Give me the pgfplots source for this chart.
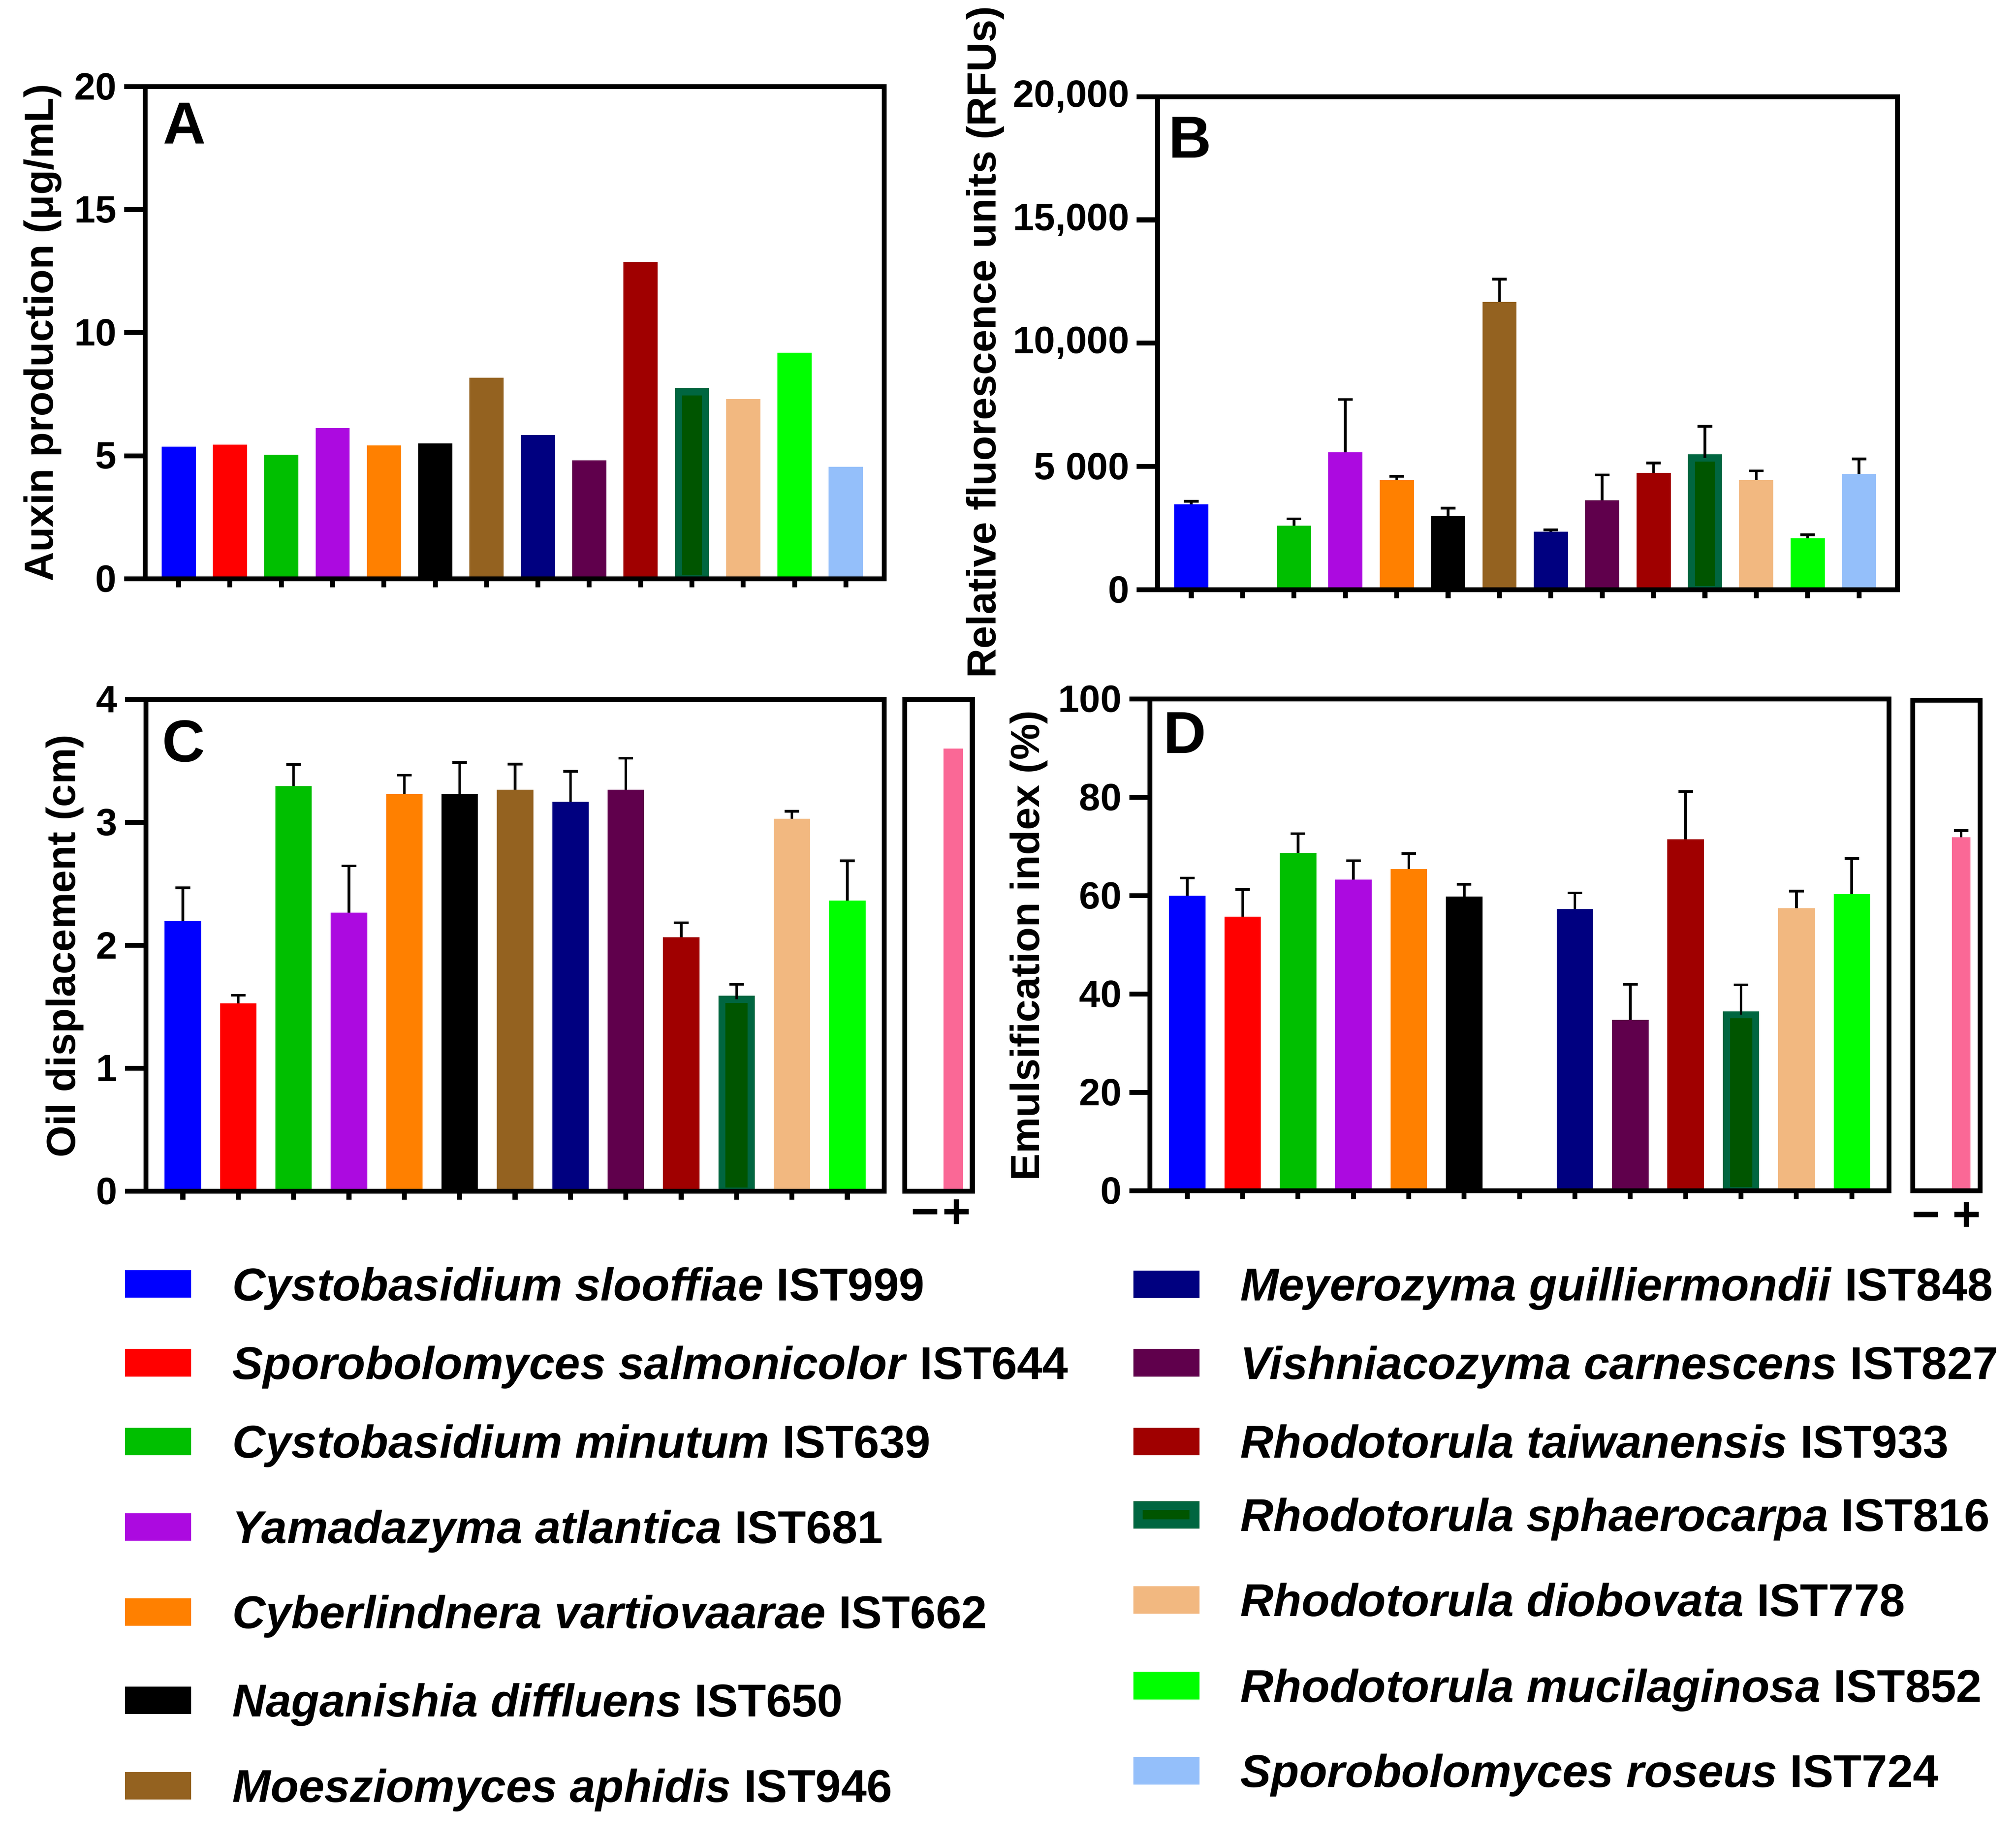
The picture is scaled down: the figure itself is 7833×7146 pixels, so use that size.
\documentclass[border=0pt]{standalone}
\usepackage{pgfplots}
\pgfplotsset{compat=1.18}
\usepackage{fontspec}
\setmainfont{Liberation Sans}
\definecolor{cBlue}{RGB}{0,0,255}
\definecolor{cRed}{RGB}{255,0,0}
\definecolor{cGreen}{RGB}{0,191,0}
\definecolor{cPurple}{RGB}{172,10,224}
\definecolor{cOrange}{RGB}{255,128,0}
\definecolor{cBlack}{RGB}{0,0,0}
\definecolor{cBrown}{RGB}{148,98,32}
\definecolor{cNavy}{RGB}{0,0,128}
\definecolor{cPlum}{RGB}{96,0,76}
\definecolor{cDarkRed}{RGB}{160,0,0}
\definecolor{cSphFill}{RGB}{0,85,0}
\definecolor{cSphEdge}{RGB}{0,102,64}
\definecolor{cTan}{RGB}{242,184,128}
\definecolor{cLime}{RGB}{0,255,0}
\definecolor{cSky}{RGB}{148,191,250}
\definecolor{cPink}{RGB}{250,104,150}
\newcommand\legfont{\fontsize{10.4}{12}\selectfont\bfseries}
\newcommand\labfont{\fontsize{9.2}{11}\selectfont\bfseries}
\newcommand\letfont{\fontsize{13.4}{15}\selectfont\bfseries}
\pgfplotsset{
  panel/.style={
    scale only axis, anchor=north west, axis on top,
    axis line style={line width=1.1pt, black},
    tick style={line width=1.1pt, black},
    tick align=outside, major tick length=0.1655cm,
    xtick pos=left, ytick pos=left,
    xticklabel=\empty,
    major x tick style={/pgfplots/major tick length=0.068cm},
    enlargelimits=false, scaled ticks=false, ymin=0,
    yticklabel style={font=\fontsize{8.6}{10}\selectfont\bfseries, inner xsep=1.5pt, inner ysep=0pt},
  },
  side/.style={
    scale only axis, anchor=north west, axis on top,
    axis line style={line width=1.1pt, black},
    xmin=0, xmax=1, ymin=0, ytick=\empty, major tick length=0pt,
    major x tick style={draw=none}, enlargelimits=false,
    xticklabels={−,+},
    xticklabel style={font=\fontsize{11}{12}\selectfont\bfseries, anchor=base, inner sep=0pt},
  },
  barAB/.style={ybar, bar shift=0pt, bar width=0.2717cm, draw=none, fill=#1},
  barCD/.style={ybar, bar shift=0pt, bar width=0.2900cm, draw=none, fill=#1},
  sphAB/.style={ybar, bar shift=0pt, bar width=0.2147cm, fill=cSphFill, draw=cSphEdge, line width=0.057cm},
  sphCD/.style={ybar, bar shift=0pt, bar width=0.2330cm, fill=cSphFill, draw=cSphEdge, line width=0.057cm},
  eb/.style={error bars/.cd, y dir=plus, y explicit,
     error bar style={line width=0.6pt, black, solid},
     error mark options={rotate=90, mark size=1.65pt, line width=0.6pt, black, solid}},
}
\begin{document}
\begin{tikzpicture}
\begin{scope}[x=0.0020426cm, y=-0.0020426cm]
\path[use as bounding box] (0,0) rectangle (7833,7146);
\end{scope}

% ---------------- A ----------------
\begin{axis}[panel, at={(1.15203cm,-0.68836cm)}, width=5.87248cm, height=3.91056cm,
  xmin=-0.655, xmax=13.75, ymax=20, xtick={0,...,13},
  ytick={0,5,10,15,20}, yticklabels={0,5,10,15,20}]
\addplot[barAB=cBlue] coordinates {(0,5.37)};
\addplot[barAB=cRed] coordinates {(1,5.45)};
\addplot[barAB=cGreen] coordinates {(2,5.05)};
\addplot[barAB=cPurple] coordinates {(3,6.12)};
\addplot[barAB=cOrange] coordinates {(4,5.42)};
\addplot[barAB=cBlack] coordinates {(5,5.50)};
\addplot[barAB=cBrown] coordinates {(6,8.17)};
\addplot[barAB=cNavy] coordinates {(7,5.85)};
\addplot[barAB=cPlum] coordinates {(8,4.81)};
\addplot[barAB=cDarkRed] coordinates {(9,12.87)};
\addplot[sphAB] coordinates {(10,7.60)};
\addplot[barAB=cTan] coordinates {(11,7.31)};
\addplot[barAB=cLime] coordinates {(12,9.19)};
\addplot[barAB=cSky] coordinates {(13,4.56)};
\end{axis}

% ---------------- B ----------------
\begin{axis}[panel, at={(9.19497cm,-0.76802cm)}, width=5.87738cm, height=3.91669cm,
  xmin=-0.655, xmax=13.75, ymax=20000, xtick={0,...,13},
  ytick={0,5000,10000,15000,20000}, yticklabels={0,{5 000},{10,000},{15,000},{20,000}}]
\addplot[barAB=cBlue, eb] coordinates {(0,3458) +- (0,130)};
\addplot[barAB=cGreen, eb] coordinates {(2,2591) +- (0,283)};
\addplot[barAB=cPurple, eb] coordinates {(3,5567) +- (0,2144)};
\addplot[barAB=cOrange, eb] coordinates {(4,4436) +- (0,167)};
\addplot[barAB=cBlack, eb] coordinates {(5,2990) +- (0,316)};
\addplot[barAB=cBrown, eb] coordinates {(6,11668) +- (0,932)};
\addplot[barAB=cNavy, eb] coordinates {(7,2342) +- (0,83)};
\addplot[barAB=cPlum, eb] coordinates {(8,3621) +- (0,1032)};
\addplot[barAB=cDarkRed, eb] coordinates {(9,4735) +- (0,400)};
\addplot[sphAB, eb] coordinates {(10,5340) +- (0,1290)};
\addplot[barAB=cTan, eb] coordinates {(11,4436) +- (0,383)};
\addplot[barAB=cLime, eb] coordinates {(12,2092) +- (0,133)};
\addplot[barAB=cSky, eb] coordinates {(13,4685) +- (0,616)};
\end{axis}

% ---------------- C ----------------
\begin{axis}[panel, at={(1.15815cm,-5.55791cm)}, width=5.86635cm, height=3.90545cm,
  xmin=-0.669, xmax=12.669, ymax=4, xtick={0,...,12},
  ytick={0,1,2,3,4}, yticklabels={0,1,2,3,4}]
\addplot[barCD=cBlue, eb] coordinates {(0,2.198) +- (0,0.270)};
\addplot[barCD=cRed, eb] coordinates {(1,1.529) +- (0,0.065)};
\addplot[barCD=cGreen, eb] coordinates {(2,3.296) +- (0,0.176)};
\addplot[barCD=cPurple, eb] coordinates {(3,2.266) +- (0,0.381)};
\addplot[barCD=cOrange, eb] coordinates {(4,3.229) +- (0,0.155)};
\addplot[barCD=cBlack, eb] coordinates {(5,3.229) +- (0,0.258)};
\addplot[barCD=cBrown, eb] coordinates {(6,3.267) +- (0,0.208)};
\addplot[barCD=cNavy, eb] coordinates {(7,3.167) +- (0,0.249)};
\addplot[barCD=cPlum, eb] coordinates {(8,3.267) +- (0,0.255)};
\addplot[barCD=cDarkRed, eb] coordinates {(9,2.066) +- (0,0.118)};
\addplot[sphCD, eb] coordinates {(10,1.560) +- (0,0.122)};
\addplot[barCD=cTan, eb] coordinates {(11,3.029) +- (0,0.062)};
\addplot[barCD=cLime, eb] coordinates {(12,2.366) +- (0,0.322)};
\end{axis}
\begin{axis}[side, at={(7.18689cm,-5.55791cm)}, width=0.53618cm, height=3.90545cm,
  ymax=4, xtick={0.305,0.77}, xticklabel style={yshift=-0.295cm}]
\addplot[ybar, bar shift=0pt, bar width=0.1532cm, draw=none, fill=cPink] coordinates {(0.714,3.601)};
\end{axis}

% ---------------- D ----------------
\begin{axis}[panel, at={(9.13451cm,-5.55383cm)}, width=5.87043cm, height=3.90749cm,
  xmin=-0.673, xmax=12.673, ymax=100, xtick={0,...,12},
  ytick={0,20,40,60,80,100}, yticklabels={0,20,40,60,80,100}]
\addplot[barCD=cBlue, eb] coordinates {(0,60.01) +- (0,3.60)};
\addplot[barCD=cRed, eb] coordinates {(1,55.76) +- (0,5.50)};
\addplot[barCD=cGreen, eb] coordinates {(2,68.74) +- (0,3.89)};
\addplot[barCD=cPurple, eb] coordinates {(3,63.31) +- (0,3.82)};
\addplot[barCD=cOrange, eb] coordinates {(4,65.44) +- (0,3.15)};
\addplot[barCD=cBlack, eb] coordinates {(5,59.86) +- (0,2.50)};
\addplot[barCD=cNavy, eb] coordinates {(7,57.30) +- (0,3.30)};
\addplot[barCD=cPlum, eb] coordinates {(8,34.78) +- (0,7.19)};
\addplot[barCD=cDarkRed, eb] coordinates {(9,71.45) +- (0,9.76)};
\addplot[sphCD, eb] coordinates {(10,35.80) +- (0,6.10)};
\addplot[barCD=cTan, eb] coordinates {(11,57.44) +- (0,3.53)};
\addplot[barCD=cLime, eb] coordinates {(12,60.31) +- (0,7.26)};
\end{axis}
\begin{axis}[side, at={(15.19184cm,-5.56302cm)}, width=0.53618cm, height=3.89830cm,
  ymax=100, xtick={0.2,0.8}, xticklabel style={yshift=-0.317cm}]
\addplot[ybar, bar shift=0pt, bar width=0.1491cm, draw=none, fill=cPink, eb] coordinates {(0.72,72.04) +- (0,1.40)};
\end{axis}

% ---------------- labels and legend ----------------
\begin{scope}[x=0.0020426cm, y=-0.0020426cm]
\node[rotate=90, anchor=base, inner sep=0pt, font=\labfont] at (206,1294) {Auxin production (μg/mL)};
\node[rotate=90, anchor=base, inner sep=0pt, font=\labfont] at (3868,1330) {Relative fluorescence units (RFUs)};
\node[rotate=90, anchor=base, inner sep=0pt, font=\labfont] at (292,3677) {Oil displacement (cm)};
\node[rotate=90, anchor=base, inner sep=0pt, font=\labfont] at (4038,3675) {Emulsification index (\%)};
\node[anchor=north west, inner sep=0pt, font=\letfont] at (630,397) {A};
\node[anchor=north west, inner sep=0pt, font=\letfont] at (4537,452) {B};
\node[anchor=north west, inner sep=0pt, font=\letfont] at (627,2796) {C};
\node[anchor=north west, inner sep=0pt, font=\letfont] at (4517,2766) {D};

% left legend column
\fill[cBlue]   (485,4936.5) rectangle +(257,107);
\fill[cRed]    (485,5242.5) rectangle +(257,107);
\fill[cGreen]  (485,5548.5) rectangle +(257,107);
\fill[cPurple] (485,5880.5) rectangle +(257,107);
\fill[cOrange] (485,6211.5) rectangle +(257,107);
\fill[cBlack]  (485,6554.5) rectangle +(257,107);
\fill[cBrown]  (485,6886.5) rectangle +(257,107);
\node[anchor=base west, inner sep=0pt, font=\legfont] at (900,5054) {\textit{Cystobasidium slooffiae} IST999};
\node[anchor=base west, inner sep=0pt, font=\legfont] at (900,5360) {\textit{Sporobolomyces salmonicolor} IST644};
\node[anchor=base west, inner sep=0pt, font=\legfont] at (900,5666) {\textit{Cystobasidium minutum} IST639};
\node[anchor=base west, inner sep=0pt, font=\legfont] at (900,5998) {\textit{Yamadazyma atlantica} IST681};
\node[anchor=base west, inner sep=0pt, font=\legfont] at (900,6329) {\textit{Cyberlindnera vartiovaarae} IST662};
\node[anchor=base west, inner sep=0pt, font=\legfont] at (900,6672) {\textit{Naganishia diffluens} IST650};
\node[anchor=base west, inner sep=0pt, font=\legfont] at (900,7004) {\textit{Moesziomyces aphidis} IST946};

% right legend column
\fill[cNavy]    (4404,4937.5) rectangle +(256,107);
\fill[cPlum]    (4404,5242.5) rectangle +(256,107);
\fill[cDarkRed] (4404,5548.5) rectangle +(256,107);
\fill[cSphEdge] (4404,5833.5) rectangle +(256,107);
\fill[cSphFill] (4440,5869) rectangle (4622,5905);
\fill[cTan]     (4404,6164.5) rectangle +(256,107);
\fill[cLime]    (4404,6497.5) rectangle +(256,107);
\fill[cSky]     (4404,6828.5) rectangle +(256,107);
\node[anchor=base west, inner sep=0pt, font=\legfont] at (4816,5055) {\textit{Meyerozyma guilliermondii} IST848};
\node[anchor=base west, inner sep=0pt, font=\legfont] at (4816,5360) {\textit{Vishniacozyma carnescens} IST827};
\node[anchor=base west, inner sep=0pt, font=\legfont] at (4816,5666) {\textit{Rhodotorula taiwanensis} IST933};
\node[anchor=base west, inner sep=0pt, font=\legfont] at (4816,5951) {\textit{Rhodotorula sphaerocarpa} IST816};
\node[anchor=base west, inner sep=0pt, font=\legfont] at (4816,6282) {\textit{Rhodotorula diobovata} IST778};
\node[anchor=base west, inner sep=0pt, font=\legfont] at (4816,6615) {\textit{Rhodotorula mucilaginosa} IST852};
\node[anchor=base west, inner sep=0pt, font=\legfont] at (4816,6946) {\textit{Sporobolomyces roseus} IST724};
\end{scope}
\end{tikzpicture}
\end{document}
